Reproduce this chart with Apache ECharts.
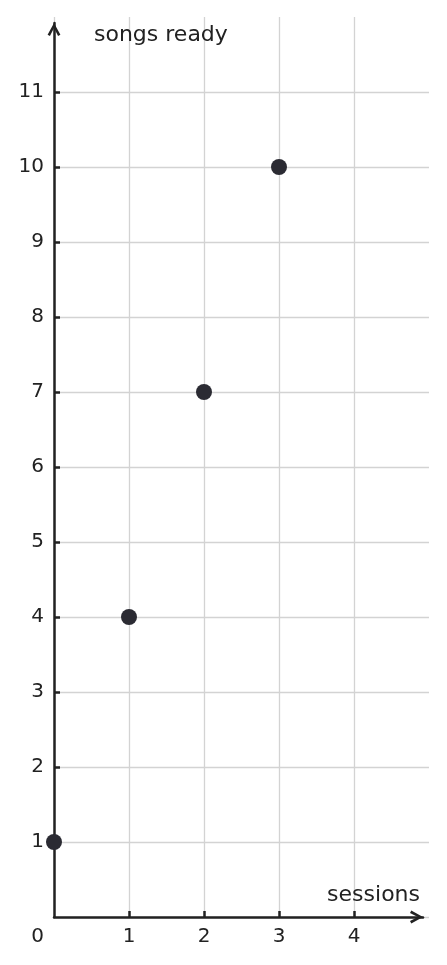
<!DOCTYPE html>
<html>
<head>
<meta charset="utf-8">
<script src="https://cdn.jsdelivr.net/npm/echarts@6/dist/echarts.min.js"></script>
<style>
html,body{margin:0;padding:0;background:#fff;}
#c{width:447px;height:965px;}
</style>
</head>
<body>
<div id="c"></div>
<script>
const sessions = [0, 1, 2, 3];
const songsReady = [1, 4, 7, 10];
const xTickLabels = [0, 1, 2, 3, 4];
const xTickMarks = [1, 2, 3, 4];
const yTickLabels = [1, 2, 3, 4, 5, 6, 7, 8, 9, 10, 11];
const xName = 'sessions';
const yName = 'songs ready';

const FONT = 'DejaVu Sans';
const INK = '#222222';
const GRIDC = '#d3d3d3';
const chevron = 'path://M0,11 L6,0 L12,11 L9.8,12.2 L6,4.8 L2.2,12.2 Z';

const chart = echarts.init(document.getElementById('c'), null, {renderer: 'canvas'});
chart.setOption({
  animation: false,
  backgroundColor: '#ffffff',
  grid: [
    {left: 54, right: 18, top: 17, bottom: 48, containLabel: false},
    {left: 54, right: 24, top: 23, bottom: 48, containLabel: false}
  ],
  xAxis: [
    {
      gridIndex: 0, type: 'value', min: 0, max: 5, interval: 1, position: 'bottom',
      axisLine: {show: false},
      axisTick: {show: true, inside: true, length: 6, customValues: xTickMarks,
        lineStyle: {color: INK, width: 2.5}},
      axisLabel: {
        show: true, margin: 10, customValues: xTickLabels,
        color: INK, fontFamily: FONT, fontSize: 20,
        formatter: function (v) { return v === 0 ? '{o|0}' : String(v); },
        rich: {o: {color: INK, fontFamily: FONT, fontSize: 20, padding: [0, 33, 0, 0]}}
      },
      splitLine: {show: false}
    },
    {
      gridIndex: 1, type: 'value', min: 0, max: 1,
      axisLine: {show: true, symbol: ['none', chevron], symbolSize: [13, 13],
        symbolOffset: [0, -6.5], lineStyle: {color: INK, width: 2.5}},
      axisTick: {show: false}, axisLabel: {show: false}, splitLine: {show: false},
      name: xName, nameLocation: 'end', nameGap: -3,
      nameTextStyle: {color: INK, fontFamily: FONT, fontSize: 22, align: 'right',
        verticalAlign: 'bottom', padding: [0, 0, 11, 0]}
    },
    {
      gridIndex: 0, type: 'value', min: 0, max: 5, interval: 1, position: 'bottom',
      axisLine: {show: false}, axisTick: {show: false}, axisLabel: {show: false},
      splitLine: {show: true, showMinLine: true, showMaxLine: false,
        lineStyle: {color: GRIDC, width: 1.3}}
    }
  ],
  yAxis: [
    {
      gridIndex: 0, type: 'value', min: 0, max: 12, interval: 1, position: 'left',
      axisLine: {show: false},
      axisTick: {show: true, inside: true, length: 6, customValues: yTickLabels,
        lineStyle: {color: INK, width: 2.5}},
      axisLabel: {show: true, margin: 10, customValues: yTickLabels,
        color: INK, fontFamily: FONT, fontSize: 20},
      splitLine: {show: false}
    },
    {
      gridIndex: 1, type: 'value', min: 0, max: 1,
      axisLine: {show: true, symbol: ['none', chevron], symbolSize: [13, 13],
        symbolOffset: [0, -6.5], lineStyle: {color: INK, width: 2.5}},
      axisTick: {show: false}, axisLabel: {show: false}, splitLine: {show: false},
      name: yName, nameLocation: 'end', nameGap: -12,
      nameTextStyle: {color: INK, fontFamily: FONT, fontSize: 22, align: 'left',
        verticalAlign: 'middle', padding: [0, 0, 0, 40]}
    },
    {
      gridIndex: 0, type: 'value', min: 0, max: 12, interval: 1, position: 'left',
      axisLine: {show: false}, axisTick: {show: false}, axisLabel: {show: false},
      splitLine: {show: true, showMinLine: true, showMaxLine: false,
        lineStyle: {color: GRIDC, width: 1.3}}
    }
  ],
  series: [{
    type: 'scatter', xAxisIndex: 0, yAxisIndex: 0,
    symbol: 'circle', symbolSize: 16,
    itemStyle: {color: '#2b2b33', opacity: 1},
    data: sessions.map((s, i) => [s, songsReady[i]])
  }]
});
</script>
</body>
</html>
